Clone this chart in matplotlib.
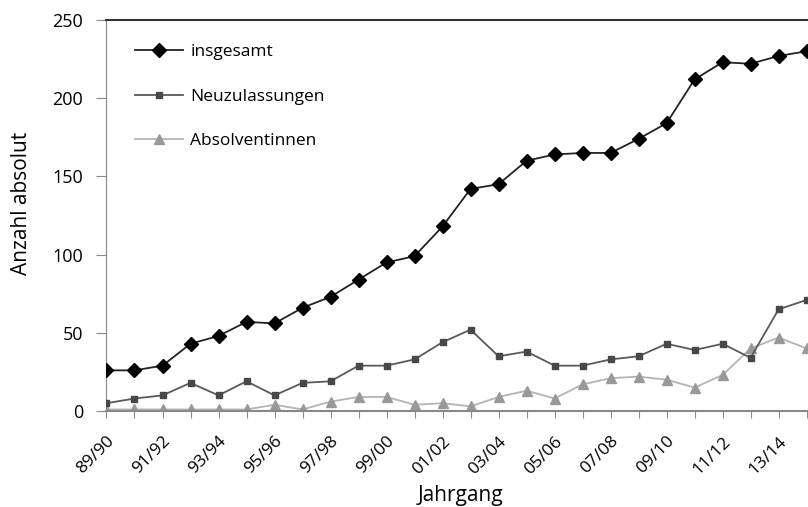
import matplotlib.pyplot as plt
from matplotlib.transforms import ScaledTranslation

# school years 89/90 .. 14/15
jahrgang = ["89/90", "90/91", "91/92", "92/93", "93/94", "94/95", "95/96",
            "96/97", "97/98", "98/99", "99/00", "00/01", "01/02", "02/03",
            "03/04", "04/05", "05/06", "06/07", "07/08", "08/09", "09/10",
            "10/11", "11/12", "12/13", "13/14", "14/15"]

insgesamt = [26, 26, 29, 43, 48, 57, 56, 66, 73, 84, 95, 99, 118, 142,
             145, 160, 164, 165, 165, 174, 184, 212, 223, 222, 227, 230]
neuzulassungen = [5, 8, 10, 18, 10, 19, 10, 18, 19, 29, 29, 33, 44, 52,
                  35, 38, 29, 29, 33, 35, 43, 39, 43, 34, 65, 71]
absolventinnen = [1, 1, 1, 1, 1, 1, 4, 1, 6, 9, 9, 4, 5, 3,
                  9, 13, 8, 17, 21, 22, 20, 15, 23, 40, 47, 40]

plt.rcParams['font.family'] = ['Open Sans', 'DejaVu Sans']

fig = plt.figure(figsize=(8.08, 5.07), dpi=100)
ax = fig.add_axes([0.1318, 0.1893, 0.8682, 0.7713])

x = list(range(len(jahrgang)))
ax.plot(x, insgesamt, color='#222222', lw=1.3, marker='D', ms=7.5,
        mfc='black', mec='black', label='insgesamt', zorder=4)
ax.plot(x, neuzulassungen, color='#5a5a5a', lw=1.3, marker='s', ms=5,
        mfc='#484848', mec='#484848', label='Neuzulassungen', zorder=3)
ax.plot(x, absolventinnen, color='#b4b4b4', lw=1.3, marker='^', ms=7.5,
        mfc='#999999', mec='#999999', label='Absolventinnen', zorder=2)

ax.set_xlim(0, 25.05)
ax.set_ylim(0, 250)
ax.set_yticks(range(0, 251, 50))
ax.set_xticks(x)
ax.set_xticklabels([lab if i % 2 == 0 else "" for i, lab in enumerate(jahrgang)],
                   rotation=45, ha='right', rotation_mode='anchor', fontsize=12.5)
# push rotated labels slightly to the right of the tick
shift = ScaledTranslation(5 / 100, 0, fig.dpi_scale_trans)
for lab in ax.get_xticklabels():
    lab.set_transform(lab.get_transform() + shift)
ax.tick_params(axis='y', labelsize=13, length=7, color='#888888', pad=10)
ax.tick_params(axis='x', length=5, color='#888888', pad=11)

ax.spines['right'].set_visible(False)
ax.spines['top'].set_color('#333333')
ax.spines['top'].set_linewidth(1.5)
ax.spines['left'].set_color('#888888')
ax.spines['bottom'].set_color('#888888')
ax.spines['bottom'].set_linewidth(1.5)

ax.set_xlabel("Jahrgang", fontsize=15)
ax.xaxis.set_label_coords(0.504, -0.19)
ax.set_ylabel("Anzahl absolut", fontsize=15)
ax.yaxis.set_label_coords(-0.106, 0.53)

ax.legend(loc='upper left', frameon=False, fontsize=12.5, labelspacing=1.62,
          handlelength=2.8, handletextpad=0.4, bbox_to_anchor=(0.018, 0.978))

fig.savefig("out.png", dpi=100)
